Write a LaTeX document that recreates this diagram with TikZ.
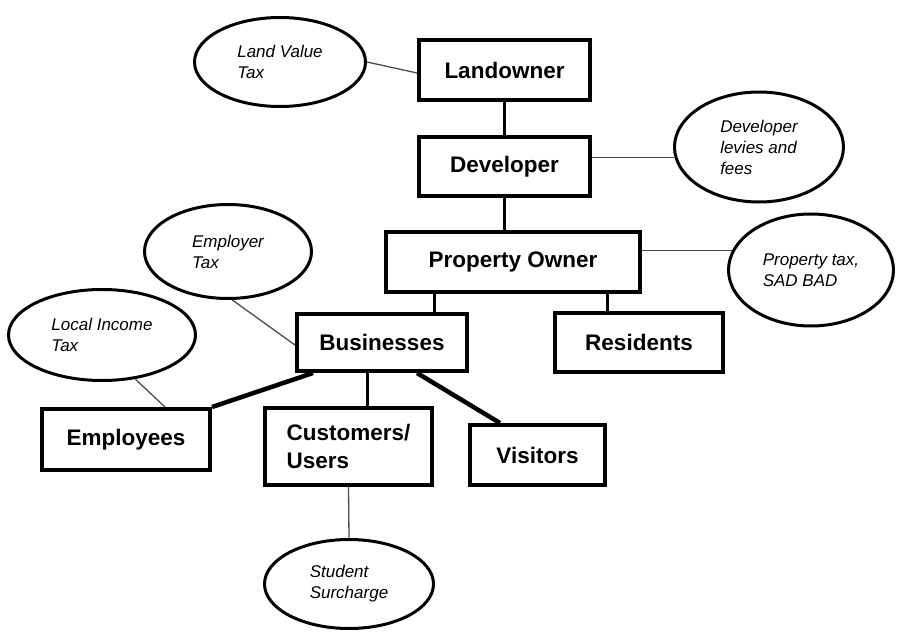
\documentclass[tikz,border=0pt]{standalone}
\usepackage{fontspec}
\setmainfont{Liberation Sans}
\usetikzlibrary{shapes.geometric,positioning}

\begin{document}
\begin{tikzpicture}[
  x=1pt, y=-1pt,
  party/.style={draw, line width=4pt, inner sep=0pt, align=center, font=\fontsize{22.5}{28}\selectfont\bfseries},
  tax/.style={ellipse, draw, line width=3pt, inner sep=0pt, align=left, font=\fontsize{17}{21}\selectfont\itshape},
  tie/.style={line width=3pt},
  heavy/.style={line width=4.5pt},
  levy/.style={line width=1.3pt, draw=black!70}
]
\useasboundingbox (0,0) rectangle (898,632);

% who pays
\node[party, minimum width=171, minimum height=60] (landowner) at (504.5,70) {Landowner};
\node[party, minimum width=171, minimum height=59] (developer) at (504.5,166.5) {Developer};
\node[party, minimum width=254, minimum height=60] (propowner) at (513,262) {Property Owner};
\node[party, minimum width=170, minimum height=57] (business) at (382,342.5) {Businesses};
\node[party, minimum width=168, minimum height=59] (residents) at (639,342.5) {Residents};
\node[party, minimum width=168, minimum height=61] (employees) at (126,439.5) {Employees};
\node[party, minimum width=167, minimum height=77, align=left] (customers) at (348.5,446.5) {Customers/\\Users};
\node[party, minimum width=135, minimum height=60] (visitors) at (537.5,455) {Visitors};

% what they pay
\node[tax, minimum width=171, minimum height=89] (landtax) at (280,62) {Land Value\\Tax};
\node[tax, minimum width=169, minimum height=110] (devfee) at (759,147) {Developer\\levies and\\fees};
\node[tax, minimum width=165, minimum height=112] (proptax) at (811,270) {Property tax,\\SAD BAD};
\node[tax, minimum width=167, minimum height=94] (empltax) at (228,251.5) {Employer\\Tax};
\node[tax, minimum width=187, minimum height=91] (incometax) at (102,335) {Local Income\\Tax};
\node[tax, minimum width=169, minimum height=89] (student) at (349,584) {Student\\Surcharge};

\draw[tie] (landowner) -- (developer);
\draw[tie] (developer.south) -- (developer.south |- propowner.north);
\draw[tie] ([xshift=52]business.north) -- ([xshift=52]business.north |- propowner.south);
\draw[tie] ([xshift=-32]residents.north) -- ([xshift=-32]residents.north |- propowner.south);
\draw[heavy] ([xshift=-69]business.south) -- (employees.north east);
\draw[tie] ([xshift=18.5]customers.north) -- ([xshift=18.5]customers.north |- business.south);
\draw[heavy] ([xshift=35]business.south) -- ([xshift=-37.5]visitors.north);

\draw[levy] (landtax.east) -- ([yshift=-3]landowner.west);
\draw[levy] (developer.east |- devfee.187) -- (devfee.187);
\draw[levy] (propowner.east |- proptax.166) -- (proptax.166);
\draw[levy] (empltax.-85) -- ([yshift=-2.5]business.west);
\draw[levy] (incometax.-53) -- ([xshift=39]employees.north);
\draw[levy] (customers.south) -- (student.north);
\end{tikzpicture}
\end{document}
